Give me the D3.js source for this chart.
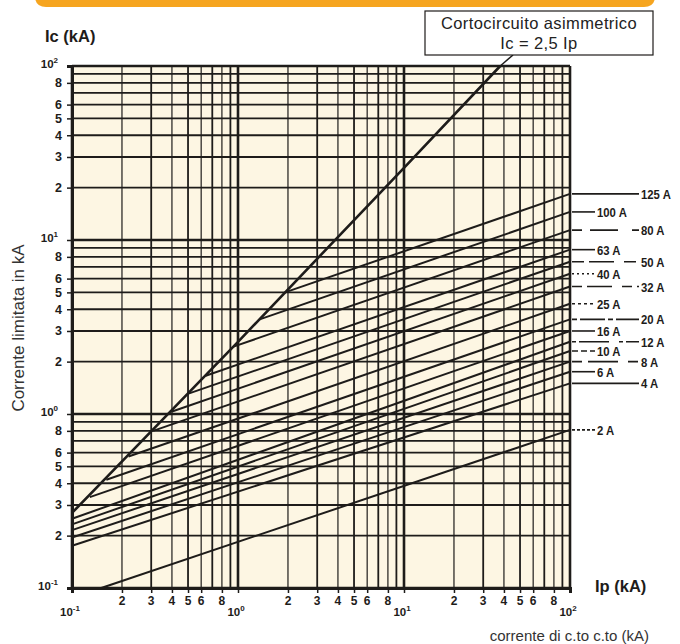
<!DOCTYPE html>
<html>
<head>
<meta charset="utf-8">
<script src="https://cdn.jsdelivr.net/npm/d3@7/dist/d3.min.js"></script>
<style>
  html, body { margin: 0; padding: 0; background: #ffffff; }
  svg { display: block; }
  text { font-family: "Liberation Sans", Arial, sans-serif; }
</style>
</head>
<body>
<svg id="chart" width="680" height="644"></svg>
<script>
// ---------- data ----------
const xDomain = [0.1, 100];
const yDomain = [0.1, 100];
const xTickValues = [0.1, 0.2, 0.3, 0.4, 0.5, 0.6, 0.8, 1, 2, 3, 4, 5, 6, 8, 10, 20, 30, 40, 50, 60, 80, 100];
const yTickValues = [0.1, 0.2, 0.3, 0.4, 0.5, 0.6, 0.8, 1, 2, 3, 4, 5, 6, 8, 10, 20, 30, 40, 50, 60, 80, 100];
const decadeLabels = { "0.1": "-1", "1": "0", "10": "1", "100": "2" };

// asymmetric short-circuit line  Ic = 2,5 Ip  [Ip, Ic]
const asymIp = [0.1, 1, 10, 38];
const asymIc = [0.27, 2.6, 26, 100];

// fuse cut-off lines
const fuseNames = ["2 A", "4 A", "6 A", "8 A", "10 A", "12 A", "16 A", "20 A", "25 A", "32 A", "40 A", "50 A", "63 A", "80 A", "100 A", "125 A"];
const fuseStartIp = [0.15, 0.1, 0.1, 0.1, 0.1, 0.1, 0.128, 0.161, 0.219, 0.308, 0.397, 0.503, 0.639, 0.94, 1.35, 1.92];
const fuseStartIc = [0.1, 0.175, 0.195, 0.215, 0.232, 0.25, 0.333, 0.419, 0.57, 0.80, 1.03, 1.31, 1.66, 2.44, 3.5, 5.0];
const fuseEndIp = [100, 100, 100, 100, 100, 100, 100, 100, 100, 100, 100, 100, 100, 100, 100, 100];
const fuseEndIc = [0.81, 1.5, 1.75, 2.0, 2.3, 2.6, 3.0, 3.5, 4.3, 5.4, 6.4, 7.5, 8.8, 11.4, 14.5, 18.4];
const fuseLabelColumn = [0, 1, 0, 1, 0, 1, 0, 1, 0, 1, 0, 1, 0, 1, 0, 1]; // 0 = near, 1 = far

(function () {
// ---------- layout ----------
const svg = d3.select("#chart");
const pL = 72, pR = 570, pT = 66, pB = 588;
const x = d3.scaleLog().domain(xDomain).range([pL, pR]);
const y = d3.scaleLog().domain(yDomain).range([pB, pT]);
const ink = "#1e1c1a";

// orange header bar
svg.append("path")
  .attr("d", "M35,-10 H655 V-4 Q655,7 644,7 H46 Q35,7 35,-4 Z")
  .attr("fill", "#f6a51f");

// plot background
svg.append("rect").attr("x", pL).attr("y", pT).attr("width", pR - pL).attr("height", pB - pT)
  .attr("fill", "#fdf6e3");

const isDecade = v => Math.abs(Math.log10(v) - Math.round(Math.log10(v))) < 1e-9;
const mant = v => Math.round(v / Math.pow(10, Math.floor(Math.log10(v) + 1e-9)));

// grid lines
const gridV = d3.range(-1, 2).flatMap(d => d3.range(1, 10).map(m => m * Math.pow(10, d))).concat([100]);
svg.append("g").selectAll("line").data(gridV).join("line")
  .attr("x1", d => x(d)).attr("x2", d => x(d)).attr("y1", pT).attr("y2", pB)
  .attr("stroke", ink)
  .attr("stroke-width", d => isDecade(d) ? 2.6 : (mant(d) % 2 === 0 ? 1.2 : 1.8));
svg.append("g").selectAll("line").data(gridV).join("line")
  .attr("x1", pL).attr("x2", pR).attr("y1", d => y(d)).attr("y2", d => y(d))
  .attr("stroke", ink)
  .attr("stroke-width", d => isDecade(d) ? 2.6 : 1.8);

// axes
const xAxis = d3.axisBottom(x).tickValues(xTickValues).tickSize(5).tickFormat("");
const yAxis = d3.axisLeft(y).tickValues(yTickValues).tickSize(5).tickFormat("");
const gx = svg.append("g").attr("transform", `translate(0,${pB})`).call(xAxis);
const gy = svg.append("g").attr("transform", `translate(${pL},0)`).call(yAxis);
[gx, gy].forEach(g => {
  g.select(".domain").attr("stroke", ink).attr("stroke-width", 3);
  g.selectAll(".tick line").attr("stroke", ink).attr("stroke-width", 1.5);
});

// x tick labels
xTickValues.forEach(v => {
  if (isDecade(v)) {
    const t = svg.append("text").attr("x", x(v) - 2).attr("y", 616).attr("text-anchor", "middle")
      .attr("font-size", 11.5).attr("font-weight", "bold").attr("fill", ink);
    t.append("tspan").text("10");
    t.append("tspan").attr("dy", -5).attr("font-size", 8).text(decadeLabels[String(v)]);
  } else {
    svg.append("text").attr("x", x(v)).attr("y", 605).attr("text-anchor", "middle")
      .attr("font-size", 12).attr("font-weight", "bold").attr("fill", ink).text(mant(v));
  }
});
// y tick labels
yTickValues.forEach(v => {
  if (isDecade(v)) {
    const t = svg.append("text").attr("x", 58).attr("y", y(v) + 2).attr("text-anchor", "end")
      .attr("font-size", 11.5).attr("font-weight", "bold").attr("fill", ink);
    t.append("tspan").text("10");
    t.append("tspan").attr("dy", -5).attr("font-size", 8).text(decadeLabels[String(v)]);
  } else {
    svg.append("text").attr("x", 62).attr("y", y(v) + 4.5).attr("text-anchor", "end")
      .attr("font-size", 12.5).attr("font-weight", "bold").attr("fill", ink).text(mant(v));
  }
});

// fuse lines
const line = d3.line().x(d => x(d[0])).y(d => y(d[1]));
const fuseData = fuseNames.map((n, i) => ({
  name: n,
  pts: [[fuseStartIp[i], fuseStartIc[i]], [fuseEndIp[i], fuseEndIc[i]]],
  col: fuseLabelColumn[i]
}));
svg.append("g").selectAll("path").data(fuseData).join("path")
  .attr("d", d => line(d.pts)).attr("fill", "none").attr("stroke", ink).attr("stroke-width", 2);

// asymmetric line
const asymPts = asymIp.map((v, i) => [v, asymIc[i]]);
svg.append("path").attr("d", line(asymPts)).attr("fill", "none").attr("stroke", ink).attr("stroke-width", 2.6);

// fuse labels with leader lines
const dashes = ["3,2", null, null, "10,6,30,10", "6,3", "4,3,30,10", null, "5,3,25,3", "3,3", "10,5,25,10", "2,3", "12,5,25,10", null, "10,8,28,14", null, null];
fuseData.forEach((d, i) => {
  const ty = y(fuseEndIc[i]);
  const tx = d.col === 1 ? 641 : 597;
  svg.append("line").attr("x1", pR + 2).attr("x2", tx - 2).attr("y1", ty).attr("y2", ty)
    .attr("stroke", ink).attr("stroke-width", 1.6)
    .attr("stroke-dasharray", dashes[i]);
  svg.append("text").attr("transform", `translate(${tx},${ty + 5}) scale(0.84,1)`)
    .attr("font-size", 13.5).attr("fill", ink).attr("font-weight", "bold").text(d.name);
});

// annotation box
svg.append("line").attr("x1", 513).attr("y1", 55).attr("x2", x(asymIp[3])).attr("y2", y(asymIc[3]))
  .attr("stroke", ink).attr("stroke-width", 1.5);
svg.append("rect").attr("x", 425).attr("y", 11).attr("width", 228).attr("height", 44)
  .attr("fill", "#ffffff").attr("stroke", ink).attr("stroke-width", 1.2);
svg.append("text").attr("x", 539).attr("y", 29).attr("text-anchor", "middle").attr("font-size", 16.5)
  .attr("letter-spacing", 0.4).attr("fill", "#222").text("Cortocircuito asimmetrico");
svg.append("text").attr("x", 539).attr("y", 49).attr("text-anchor", "middle").attr("font-size", 16.5)
  .attr("letter-spacing", 0.4).attr("fill", "#222").text("Ic = 2,5 Ip");

// axis titles
svg.append("text").attr("x", 45).attr("y", 42).attr("font-size", 16.5).attr("font-weight", "bold")
  .attr("fill", ink).text("Ic (kA)");
svg.append("text").attr("x", 595).attr("y", 592).attr("font-size", 16.5).attr("font-weight", "bold")
  .attr("fill", ink).text("Ip (kA)");
svg.append("text").attr("x", 649).attr("y", 641).attr("text-anchor", "end").attr("font-size", 15)
  .attr("fill", "#333").text("corrente di c.to c.to (kA)");
svg.append("text").attr("transform", "translate(24,328) rotate(-90)").attr("text-anchor", "middle")
  .attr("font-size", 17).attr("fill", "#333").text("Corrente limitata in kA");
})();
</script>
</body>
</html>
